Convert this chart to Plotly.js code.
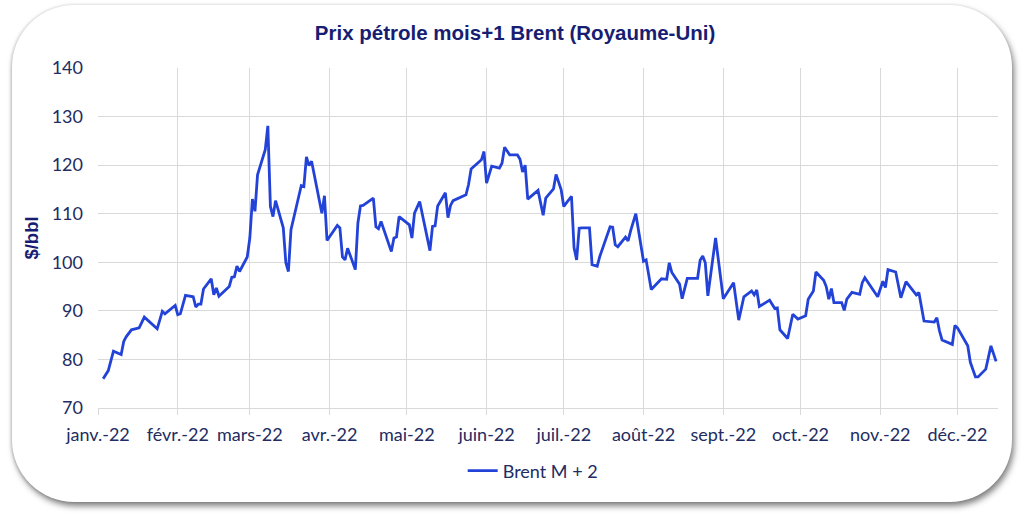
<!DOCTYPE html>
<html>
<head>
<meta charset="utf-8">
<script src="https://cdn.plot.ly/plotly-3.0.1.min.js"></script>
<style>
  body { margin: 0; background: #fff; }
  #wrap { position: relative; width: 1024px; height: 516px; }
  #frame {
    position: absolute; left: 12px; top: 5px; width: 1000px; height: 497px;
    border-radius: 62px; background: #fff;
    box-shadow: 2px 4px 6px rgba(0, 0, 0, 0.5), -1px 0 3px rgba(0, 0, 0, 0.15);
  }
  #chart { position: absolute; left: 0; top: 0; width: 1024px; height: 516px; }
</style>
</head>
<body>
<div id="wrap">
  <div id="frame"></div>
  <div id="chart"></div>
</div>
<script>
// Brent M+2, $/bbl, 2022
const dates = [
  "2022-01-03", "2022-01-05", "2022-01-07", "2022-01-10", "2022-01-11", "2022-01-12", "2022-01-14",
  "2022-01-17", "2022-01-19", "2022-01-24", "2022-01-26", "2022-01-27", "2022-01-31",
  "2022-02-01", "2022-02-02", "2022-02-04", "2022-02-07", "2022-02-08", "2022-02-09", "2022-02-10",
  "2022-02-11", "2022-02-14", "2022-02-15", "2022-02-16", "2022-02-17", "2022-02-21", "2022-02-22",
  "2022-02-23", "2022-02-24", "2022-02-25", "2022-02-28",
  "2022-03-01", "2022-03-02", "2022-03-03", "2022-03-04", "2022-03-07", "2022-03-08", "2022-03-09",
  "2022-03-10", "2022-03-11", "2022-03-14", "2022-03-15", "2022-03-16", "2022-03-17", "2022-03-21",
  "2022-03-22", "2022-03-23", "2022-03-24", "2022-03-25", "2022-03-29", "2022-03-30", "2022-03-31",
  "2022-04-04", "2022-04-05", "2022-04-06", "2022-04-07", "2022-04-08", "2022-04-11", "2022-04-12",
  "2022-04-13", "2022-04-14", "2022-04-18", "2022-04-19", "2022-04-20", "2022-04-21", "2022-04-25",
  "2022-04-26", "2022-04-27", "2022-04-28",
  "2022-05-02", "2022-05-03", "2022-05-04", "2022-05-06", "2022-05-10", "2022-05-11", "2022-05-12",
  "2022-05-13", "2022-05-16", "2022-05-17", "2022-05-18", "2022-05-19", "2022-05-24", "2022-05-25",
  "2022-05-26", "2022-05-30", "2022-05-31",
  "2022-06-01", "2022-06-03", "2022-06-06", "2022-06-07", "2022-06-08", "2022-06-10", "2022-06-13",
  "2022-06-14", "2022-06-15", "2022-06-16", "2022-06-17", "2022-06-21", "2022-06-23", "2022-06-24",
  "2022-06-27", "2022-06-28", "2022-06-30",
  "2022-07-01", "2022-07-04", "2022-07-05", "2022-07-06", "2022-07-07", "2022-07-08", "2022-07-11",
  "2022-07-12", "2022-07-14", "2022-07-15", "2022-07-19", "2022-07-20", "2022-07-21", "2022-07-22",
  "2022-07-25", "2022-07-26", "2022-07-27", "2022-07-29",
  "2022-08-01", "2022-08-02", "2022-08-04", "2022-08-08", "2022-08-10", "2022-08-11", "2022-08-12",
  "2022-08-15", "2022-08-16", "2022-08-18", "2022-08-22", "2022-08-23", "2022-08-24", "2022-08-25",
  "2022-08-26", "2022-08-29", "2022-08-31",
  "2022-09-01", "2022-09-05", "2022-09-07", "2022-09-09", "2022-09-12", "2022-09-13", "2022-09-14",
  "2022-09-15", "2022-09-19", "2022-09-21", "2022-09-22", "2022-09-23", "2022-09-26", "2022-09-28",
  "2022-09-30",
  "2022-10-03", "2022-10-04", "2022-10-06", "2022-10-07", "2022-10-10", "2022-10-11", "2022-10-12",
  "2022-10-13", "2022-10-14", "2022-10-17", "2022-10-18", "2022-10-19", "2022-10-21", "2022-10-24",
  "2022-10-25", "2022-10-26", "2022-10-31",
  "2022-11-02", "2022-11-03", "2022-11-04", "2022-11-07", "2022-11-09", "2022-11-11", "2022-11-14",
  "2022-11-15", "2022-11-16", "2022-11-18", "2022-11-22", "2022-11-23", "2022-11-24", "2022-11-25",
  "2022-11-29", "2022-11-30",
  "2022-12-01", "2022-12-05", "2022-12-06", "2022-12-08", "2022-12-09", "2022-12-12", "2022-12-14",
  "2022-12-16"
];

const brentM2 = [
  76.0, 77.7, 81.7, 81.0, 83.7, 84.7, 86.1,
  86.5, 88.7, 86.3, 89.9, 89.4, 91.1,
  89.2, 89.4, 93.2, 92.9, 90.8, 91.4, 91.4,
  94.5, 96.6, 93.3, 94.7, 93.0, 95.0, 96.9,
  97.0, 99.2, 98.1, 101.1,
  105.0, 113.0, 110.5, 118.0, 123.2, 128.1, 111.5,
  109.4, 112.7, 107.1, 99.9, 98.1, 106.7, 115.8,
  115.6, 121.7, 119.9, 120.8, 110.1, 113.7, 104.5,
  107.6, 107.1, 101.1, 100.5, 102.9, 98.5, 108.1,
  111.6, 111.7, 113.2, 107.3, 106.9, 108.4, 102.2,
  105.0, 105.2, 109.4,
  107.7, 105.0, 110.1, 112.5, 102.4, 107.4, 107.5,
  111.6, 114.3, 109.2, 111.7, 112.7, 113.9, 116.0,
  119.2, 121.1, 122.8,
  116.3, 119.8, 119.4, 120.4, 123.7, 122.1, 122.1,
  121.2, 118.6, 120.0, 113.0, 114.8, 109.7, 113.2,
  115.1, 118.1, 114.9,
  111.5, 113.6, 103.0, 100.5, 107.0, 107.1, 107.1,
  99.5, 99.2, 101.2, 107.3, 107.2, 103.6, 103.2,
  105.2, 104.4, 106.5, 110.0,
  100.2, 100.5, 94.4, 96.6, 96.5, 99.9, 97.9,
  95.5, 92.5, 96.7, 96.7, 100.4, 101.3, 99.9,
  93.1, 105.0, 97.3,
  92.5, 95.8, 88.1, 92.9, 94.1, 93.3, 94.3,
  90.9, 92.2, 90.5, 90.6, 86.1, 84.3, 89.3,
  88.3,
  89.0, 92.4, 94.1, 98.0, 96.3, 95.0, 92.4,
  94.6, 91.7, 91.7, 90.1, 92.4, 93.8, 93.4,
  95.8, 96.8, 92.9,
  96.1, 94.8, 98.5, 98.0, 92.7, 96.0, 94.1,
  93.3, 93.8, 87.9, 87.7, 88.6, 85.9, 84.0,
  83.1, 87.0,
  86.5, 82.8, 79.4, 76.4, 76.4, 78.0, 82.8,
  79.6
];

const monthTicks = [
  "2022-01-01", "2022-02-01", "2022-03-01", "2022-04-01", "2022-05-01", "2022-06-01",
  "2022-07-01", "2022-08-01", "2022-09-01", "2022-10-01", "2022-11-01", "2022-12-01"
];
const monthLabels = [
  "janv.-22", "févr.-22", "mars-22", "avr.-22", "mai-22", "juin-22",
  "juil.-22", "août-22", "sept.-22", "oct.-22", "nov.-22", "déc.-22"
];

const navy = "#161D72";
const tickFont = { family: "Lato, 'Open Sans', sans-serif", size: 18, color: "#222C62" };

let trace = {
  x: dates,
  y: brentM2,
  type: "scatter",
  mode: "lines",
  name: "Brent M + 2",
  line: { color: "#2343D8", width: 2.8 }
};

let layout = {
  width: 1024,
  height: 516,
  paper_bgcolor: "rgba(0,0,0,0)",
  plot_bgcolor: "rgba(0,0,0,0)",
  margin: { l: 98, r: 26, t: 68, b: 108 },
  title: {
    text: "<b>Prix pétrole mois+1 Brent (Royaume-Uni)</b>",
    font: { family: "Arial, 'Liberation Sans', sans-serif", size: 20.5, color: navy },
    x: 0.503, xanchor: "center",
    y: 0.936, yanchor: "middle"
  },
  xaxis: {
    type: "date",
    range: ["2022-01-01", "2022-12-16 18:00"],
    tickmode: "array",
    tickvals: monthTicks,
    ticktext: monthLabels,
    tickfont: tickFont,
    ticks: "outside",
    ticklen: 6,
    tickcolor: "#D9D9D9",
    ticklabelstandoff: 4,
    showgrid: true,
    gridcolor: "#D9D9D9",
    gridwidth: 1,
    showline: true,
    linecolor: "#D9D9D9",
    zeroline: false,
    fixedrange: true
  },
  yaxis: {
    range: [70, 140],
    dtick: 10,
    tickfont: tickFont,
    ticks: "",
    ticklabelstandoff: 14,
    showgrid: true,
    gridcolor: "#D9D9D9",
    gridwidth: 1,
    zeroline: false,
    showline: false,
    automargin: false,
    title: {
      text: "<b>$/bbl</b>",
      font: { family: "Arial, 'Liberation Sans', sans-serif", size: 18.5, color: navy },
      standoff: 8
    }
  },
  showlegend: true,
  legend: {
    orientation: "h",
    x: 0.483, xanchor: "center",
    y: -0.185, yanchor: "middle",
    font: { family: "Lato, 'Open Sans', sans-serif", size: 18, color: "#222C62" },
    bgcolor: "rgba(0,0,0,0)"
  }
};

Plotly.newPlot("chart", [trace], layout, { staticPlot: true });
</script>
</body>
</html>
